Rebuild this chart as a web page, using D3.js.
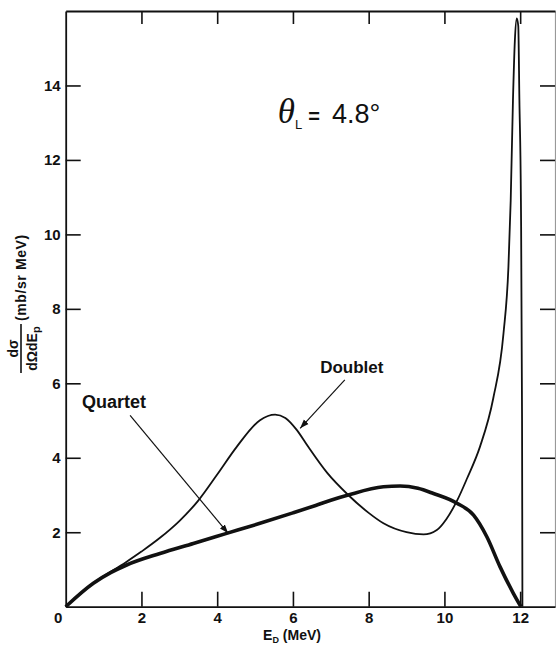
<!DOCTYPE html>
<html>
<head>
<meta charset="utf-8">
<script src="https://cdn.jsdelivr.net/npm/d3@7"></script>
<style>
  body { margin: 0; background: #fff; }
  text { font-family: "Liberation Sans", Arial, sans-serif; fill: #111; }
</style>
</head>
<body>
<div id="chart"></div>
<script>
// proton energy (MeV) and cross section (mb/sr MeV)
const doubletE = [0, 0.73, 1.6, 2.0, 2.49, 3.0, 3.5, 4.0, 4.52, 5.13, 5.53, 5.8, 6.1, 6.4, 6.9, 7.46, 8.0, 8.39, 9.0, 9.45, 9.8, 10.05, 10.33, 10.6, 10.94, 11.29, 11.56, 11.69, 11.75, 11.81, 11.86, 11.91, 11.95, 11.98, 12.02, 12.05, 12.06];
const doubletY = [0, 0.63, 1.2, 1.48, 1.85, 2.3, 2.85, 3.55, 4.3, 5.01, 5.16, 5.07, 4.75, 4.3, 3.6, 3.0, 2.52, 2.24, 2.0, 1.94, 2.06, 2.35, 2.84, 3.45, 4.3, 5.6, 7.34, 9.12, 10.9, 13.6, 15.2, 15.8, 15.6, 13.6, 10.9, 5.0, 0];

const quartetE = [0, 0.73, 1.2, 1.61, 2.49, 3.37, 4.25, 5.13, 6.0, 6.6, 7.0, 7.46, 8.39, 8.83, 9.3, 9.71, 10.33, 10.77, 11.12, 11.47, 11.82, 12.02];
const quartetY = [0, 0.63, 0.92, 1.12, 1.43, 1.70, 1.97, 2.24, 2.52, 2.72, 2.86, 3.0, 3.22, 3.24, 3.18, 3.04, 2.78, 2.46, 1.88, 1.07, 0.36, 0];

const xTicks = [0, 2, 4, 6, 8, 10, 12];
const yTicks = [2, 4, 6, 8, 10, 12, 14];

const W = 556, H = 646;
const margin = { top: 11, right: 1, bottom: 39.3, left: 65.7 };
const w = W - margin.left - margin.right;
const h = H - margin.top - margin.bottom;

const svg = d3.select("#chart").append("svg")
  .attr("width", W)
  .attr("height", H);
svg.append("rect").attr("width", W).attr("height", H).attr("fill", "#fff");

const g = svg.append("g").attr("transform", `translate(${margin.left},${margin.top})`);

const x = d3.scaleLinear().domain([0, 12.92]).range([0, w]);
const y = d3.scaleLinear().domain([0, 16]).range([h, 0]);

// axes: ticks point inward
const styleAxis = (sel, col = "#111", width = 1.8) => {
  sel.selectAll(".domain").attr("stroke", col).attr("stroke-width", width);
  sel.selectAll(".tick line").attr("stroke", "#111").attr("stroke-width", 1.6);
  sel.selectAll(".tick text")
    .attr("font-size", 15).attr("font-weight", "bold").style("font-family", "Liberation Sans, Arial, sans-serif").attr("fill", "#111");
};

const axLeft = g.append("g")
  .call(d3.axisLeft(y).tickValues(yTicks).tickSize(-15).tickSizeOuter(0).tickPadding(5).tickFormat(d3.format("d")));
styleAxis(axLeft);

const axRight = g.append("g").attr("transform", `translate(${w},0)`)
  .call(d3.axisRight(y).tickValues(yTicks).tickSize(-15).tickSizeOuter(0).tickFormat(""));
styleAxis(axRight, "#999", 1.2);

const axTop = g.append("g")
  .call(d3.axisTop(x).tickValues(xTicks.slice(1)).tickSize(-13).tickSizeOuter(0).tickFormat(""));
styleAxis(axTop);

const axBottom = g.append("g").attr("transform", `translate(0,${h})`)
  .call(d3.axisBottom(x).tickValues(xTicks).tickSize(-15).tickSizeOuter(0).tickPadding(6).tickFormat(d3.format("d")));
styleAxis(axBottom);
axBottom.selectAll(".tick").filter(d => d === 0).select("line").remove();
axBottom.selectAll(".tick").filter(d => d === 0).select("text").attr("dx", -8);

// curves
const line = d3.line().x(d => x(d[0])).y(d => y(d[1])).curve(d3.curveMonotoneX);

g.append("path")
  .datum(doubletE.map((e, i) => [e, doubletY[i]]))
  .attr("d", line)
  .attr("fill", "none")
  .attr("stroke", "#111")
  .attr("stroke-width", 1.8);

g.append("path")
  .datum(quartetE.map((e, i) => [e, quartetY[i]]))
  .attr("d", line)
  .attr("fill", "none")
  .attr("stroke", "#111")
  .attr("stroke-width", 3.6)
  .attr("stroke-linejoin", "round");

// arrows for the labels
svg.append("defs").append("marker")
  .attr("id", "head")
  .attr("viewBox", "0 0 10 10")
  .attr("refX", 10).attr("refY", 5)
  .attr("markerWidth", 9).attr("markerHeight", 9)
  .attr("markerUnits", "userSpaceOnUse")
  .attr("orient", "auto")
  .append("path").attr("d", "M0,1.5 L10,5 L0,8.5 Z").attr("fill", "#111");

const arrows = [
  { from: [1.70, 5.14], to: [4.29, 1.97] },
  { from: [7.37, 6.09], to: [6.19, 4.79] }
];
arrows.forEach(a => {
  g.append("line")
    .attr("x1", x(a.from[0])).attr("y1", y(a.from[1]))
    .attr("x2", x(a.to[0])).attr("y2", y(a.to[1]))
    .attr("stroke", "#111").attr("stroke-width", 1.2)
    .attr("marker-end", "url(#head)");
});

g.append("text").text("Quartet")
  .attr("x", x(0.43)).attr("y", y(5.33))
  .attr("font-size", 18).attr("font-weight", "bold");

g.append("text").text("Doublet")
  .attr("x", x(6.72)).attr("y", y(6.27))
  .attr("font-size", 17).attr("font-weight", "bold");

// angle annotation
const th = g.append("text").attr("x", x(5.6)).attr("y", y(12.98));
th.append("tspan").text("θ")
  .style("font-family", "Liberation Serif, serif").attr("font-style", "italic").attr("font-size", 35);
th.append("tspan").text("L").attr("font-size", 13).attr("dy", 6);
th.append("tspan").text("=").attr("font-size", 20).attr("font-weight", "bold").attr("dy", -6).attr("dx", 6);
th.append("tspan").text("4.8°").attr("font-size", 27).attr("dx", 12);

// x axis title
const xt = svg.append("text")
  .attr("x", 292).attr("y", 640)
  .attr("text-anchor", "middle")
  .attr("font-size", 14).attr("font-weight", "bold");
xt.append("tspan").text("E");
xt.append("tspan").text("D").attr("font-size", 9).attr("dy", 3);
xt.append("tspan").text(" (MeV)").attr("dy", -3);

// y axis title: fraction plus units, rotated
const yt = svg.append("g").attr("transform", "translate(21,350) rotate(-90)");
yt.append("line").attr("x1", -23).attr("x2", 26).attr("y1", 0).attr("y2", 0)
  .attr("stroke", "#111").attr("stroke-width", 1.6);
yt.append("text").text("dσ")
  .attr("x", 1.5).attr("y", -3).attr("text-anchor", "middle")
  .attr("font-size", 14).attr("font-weight", "bold");
const den = yt.append("text")
  .attr("x", 1.5).attr("y", 16).attr("text-anchor", "middle")
  .attr("font-size", 14).attr("font-weight", "bold");
den.append("tspan").text("dΩdE");
den.append("tspan").text("p").attr("font-size", 11).attr("dy", 3);
yt.append("text").text("(mb/sr  MeV)")
  .attr("x", 29).attr("y", 5)
  .attr("font-size", 14).attr("font-weight", "bold").attr("letter-spacing", 0.6);
</script>
</body>
</html>
